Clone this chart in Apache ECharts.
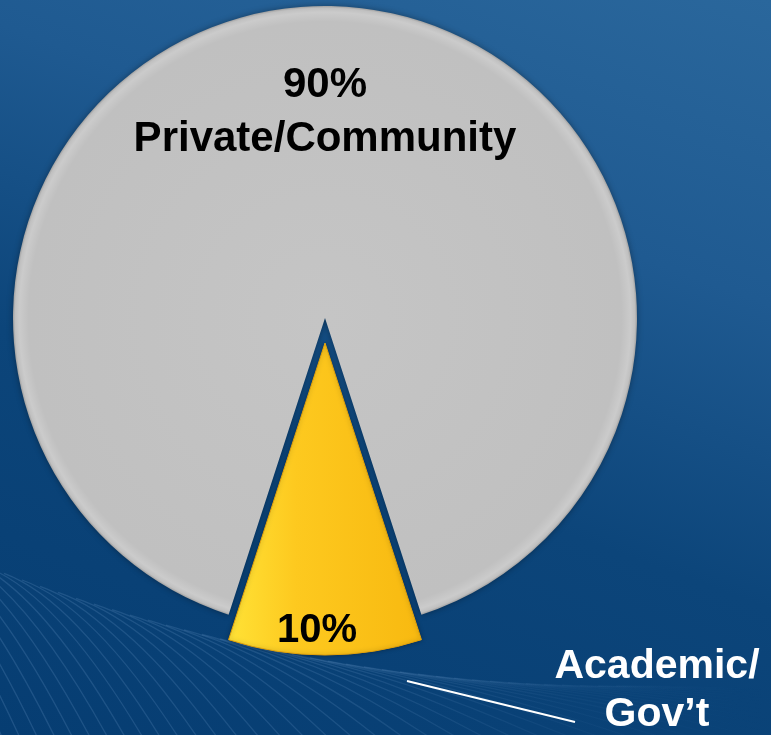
<!DOCTYPE html>
<html>
<head>
<meta charset="utf-8">
<script src="https://cdn.jsdelivr.net/npm/echarts@6/dist/echarts.min.js"></script>
<style>
  html, body { margin: 0; padding: 0; }
  body {
    width: 771px; height: 735px; overflow: hidden;
    background: linear-gradient(200deg, #2a679c 0%, #1f5a91 30%, #0c457a 60%, #063d72 100%);
  }
  #chart { width: 771px; height: 735px; }
</style>
</head>
<body>
<div id="chart"></div>
<script>
// Share of activity by sector
const categories = ['Private/Community', 'Academic/Gov\u2019t'];
const shares = [90, 10];

const FONT = '"Liberation Sans", Arial, Helvetica, sans-serif';
const CX = 325, CY = 318, R = 312;

const chart = echarts.init(document.getElementById('chart'), null, { renderer: 'canvas' });

// Decorative backdrop: a family of curves, each leaving a shared upper
// envelope tangentially and bending down towards the bottom edge.
function envelopeY(x) {
  const u = Math.min(x, 600);
  return 572 + 0.37 * u - 0.0003 * u * u;
}
function envelopeSlope(x) {
  return x >= 600 ? 0 : 0.37 - 0.0006 * x;
}
// lines fade out towards the right-hand side
const waveStroke = {
  type: 'linear', x: 0, y: 0, x2: 771, y2: 0, global: true,
  colorStops: [
    { offset: 0, color: 'rgba(150,190,235,0.17)' },
    { offset: 0.45, color: 'rgba(150,190,235,0.14)' },
    { offset: 0.75, color: 'rgba(150,190,235,0.04)' },
    { offset: 1, color: 'rgba(150,190,235,0)' }
  ]
};
const waves = [];
for (let a = -320; a <= 620; a += 18) {
  const y0 = envelopeY(a);
  const k = envelopeSlope(a);
  const b = a + 170 + 0.0015 * Math.max(0, a) * Math.max(0, a);
  const d = 0.45 * (b - a);
  waves.push({
    type: 'bezierCurve',
    silent: true,
    z: 0,
    shape: {
      x1: a, y1: y0,
      cpx1: a + d, cpy1: y0 + k * d,
      x2: b, y2: 760
    },
    style: { stroke: waveStroke, lineWidth: 1.3, fill: null }
  });
}

const option = {
  animation: false,
  graphic: waves.concat([
    {
      type: 'line',
      z: 10,
      shape: { x1: 407, y1: 681, x2: 575, y2: 722 },
      style: { stroke: '#ffffff', lineWidth: 2 }
    },
    {
      type: 'text',
      z: 10,
      x: 657, y: 691,
      style: {
        text: categories[1].replace('/', '/\n'),
        font: 'bold 41px ' + FONT,
        fill: '#ffffff',
        align: 'center',
        verticalAlign: 'middle',
        lineHeight: 48
      }
    }
  ]),
  series: [{
    type: 'pie',
    center: [CX, CY],
    radius: R,
    startAngle: 252,
    clockwise: true,
    selectedMode: 'single',
    selectedOffset: 25,
    silent: true,
    labelLine: { show: false },
    label: {
      show: true,
      position: 'inside',
      color: '#000000',
      fontFamily: FONT,
      fontWeight: 'bold',
      fontSize: 42,
      lineHeight: 54,
      formatter: p => p.dataIndex === 0
        ? Math.round(p.percent) + '%\n' + p.name
        : Math.round(p.percent) + '%'
    },
    labelLayout: p => p.dataIndex === 0 ? { dy: -47 } : { dx: -8, dy: 129 },
    data: [
      {
        name: categories[0],
        value: shares[0],
        itemStyle: {
          color: {
            type: 'radial', x: CX, y: CY, r: R, global: true,
            colorStops: [
              { offset: 0, color: '#c5c5c5' },
              { offset: 0.95, color: '#c0c0c0' },
              { offset: 0.98, color: '#cbcbcb' },
              { offset: 0.993, color: '#c0c0c0' },
              { offset: 1, color: '#a0a0a0' }
            ]
          },
          shadowBlur: 6,
          shadowColor: 'rgba(0,0,0,0.35)'
        }
      },
      {
        name: categories[1],
        value: shares[1],
        selected: true,
        label: { fontSize: 40 },
        itemStyle: {
          color: {
            type: 'linear', x: 0, y: 0, x2: 1, y2: 0,
            colorStops: [
              { offset: 0, color: '#ffe236' },
              { offset: 0.35, color: '#fdc91f' },
              { offset: 1, color: '#f8b910' }
            ]
          },
          borderColor: '#e3a20a',
          borderWidth: 1,
          shadowBlur: 4,
          shadowColor: 'rgba(0,0,0,0.3)'
        }
      }
    ]
  }]
};

chart.setOption(option);
</script>
</body>
</html>
